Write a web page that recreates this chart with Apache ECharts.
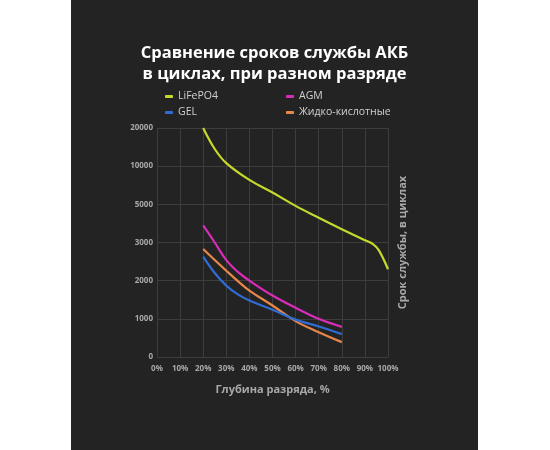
<!DOCTYPE html>
<html>
<head>
<meta charset="utf-8">
<script src="https://cdn.jsdelivr.net/npm/echarts@6/dist/echarts.min.js"></script>
<style>
    html, body { margin: 0; padding: 0; background: #fff; }
    #panel { position: absolute; left: 71px; top: 0; width: 407px; height: 450px; background: #232323; }
    #chart { width: 407px; height: 450px; }
</style>
</head>
<body>
<div id="panel"><div id="chart"></div></div>
<script>
// y axis is not linear: ticks are equally spaced
var yTicks = [0, 1000, 2000, 3000, 5000, 10000, 20000];
var xTicks = [0, 10, 20, 30, 40, 50, 60, 70, 80, 90, 100];
var seriesNames = ['LiFePO4', 'AGM', 'GEL', 'Жидко-кислотные'];
var colors = ['#c6d92b', '#d92cb9', '#2f6cd4', '#e8874a'];

var depthLi = [20, 25, 30, 40, 50, 60, 70, 80, 90, 93.5, 96, 100];
var cyclesLi = [20000, 14500, 10800, 8200, 6550, 4920, 4300, 3700, 3120, 2960, 2800, 2300];

var depthLead = [20, 25, 30, 35, 40, 50, 60, 70, 80];
var cyclesAgm = [3900, 3000, 2540, 2230, 2000, 1610, 1290, 1000, 790];
var cyclesGel = [2630, 2200, 1870, 1640, 1480, 1240, 980, 800, 600];
var cyclesAcid = [2830, 2540, 2260, 1990, 1740, 1350, 940, 650, 390];

// map cycles onto the equally spaced tick index
function toIdx(v) {
    for (var i = 0; i < yTicks.length - 1; i++) {
        if (v <= yTicks[i + 1]) {
            return i + (v - yTicks[i]) / (yTicks[i + 1] - yTicks[i]);
        }
    }
    return yTicks.length - 1;
}
function pairs(xs, ys) {
    return xs.map(function (x, i) { return [x, toIdx(ys[i])]; });
}

var lines = [
    pairs(depthLi, cyclesLi),
    pairs(depthLead, cyclesAgm),
    pairs(depthLead, cyclesGel),
    pairs(depthLead, cyclesAcid)
];

var labelStyle = { color: '#a8a8a8', fontSize: 8, fontWeight: 'bold', fontFamily: 'Open Sans' };
var legendText = { color: '#d0d0d0', fontSize: 10.5, fontFamily: 'Open Sans' };

var option = {
    animation: false,
    title: {
        text: 'Сравнение сроков службы АКБ\nв циклах, при разном разряде',
        left: 'center',
        top: 38,
        textStyle: { color: '#fff', fontSize: 16.5, fontWeight: 'bold', fontFamily: 'Open Sans', lineHeight: 21 }
    },
    legend: [
        {
            data: ['LiFePO4', 'GEL'],
            orient: 'vertical',
            left: 89, top: 86,
            itemWidth: 8, itemHeight: 3, itemGap: 5,
            icon: 'roundRect',
            textStyle: legendText
        },
        {
            data: ['AGM', 'Жидко-кислотные'],
            orient: 'vertical',
            left: 210, top: 86,
            itemWidth: 8, itemHeight: 3, itemGap: 5,
            icon: 'roundRect',
            textStyle: legendText
        }
    ],
    grid: { left: 86, right: 90, top: 128, bottom: 93 },
    xAxis: {
        type: 'value',
        min: 0, max: 100, interval: 10,
        name: 'Глубина разряда, %',
        nameLocation: 'middle',
        nameGap: 27,
        nameTextStyle: { color: '#a8a8a8', fontSize: 11, fontWeight: 'bold', fontFamily: 'Open Sans' },
        axisLine: { show: false },
        axisTick: { show: false },
        axisLabel: Object.assign({ margin: 8, formatter: function (v) { return v + '%'; } }, labelStyle),
        splitLine: { lineStyle: { color: '#3d3d3d', width: 1 } }
    },
    yAxis: [
        {
            type: 'value',
            min: 0, max: yTicks.length - 1, interval: 1,
            axisLine: { show: false },
            axisTick: { show: false },
            axisLabel: Object.assign({ margin: 4, formatter: function (v) { return yTicks[v]; } }, labelStyle),
            splitLine: { lineStyle: { color: '#3d3d3d', width: 1 } }
        },
        {
            type: 'value',
            position: 'right',
            min: 0, max: yTicks.length - 1, interval: 1,
            name: 'Срок службы, в циклах',
            nameLocation: 'middle',
            nameRotate: 90,
            nameGap: 9,
            nameTextStyle: { color: '#a8a8a8', fontSize: 11, fontWeight: 'bold', fontFamily: 'Open Sans' },
            axisLine: { show: false },
            axisTick: { show: false },
            axisLabel: { show: false },
            splitLine: { show: false }
        }
    ],
    series: seriesNames.map(function (name, i) {
        return {
            name: name,
            type: 'line',
            data: lines[i],
            smooth: 0.4,
            showSymbol: false,
            color: colors[i],
            lineStyle: { width: 2.2, color: colors[i] },
            z: i === 0 ? 5 : 4 - i
        };
    })
};

var chart = echarts.init(document.getElementById('chart'));
chart.setOption(option);
</script>
</body>
</html>
